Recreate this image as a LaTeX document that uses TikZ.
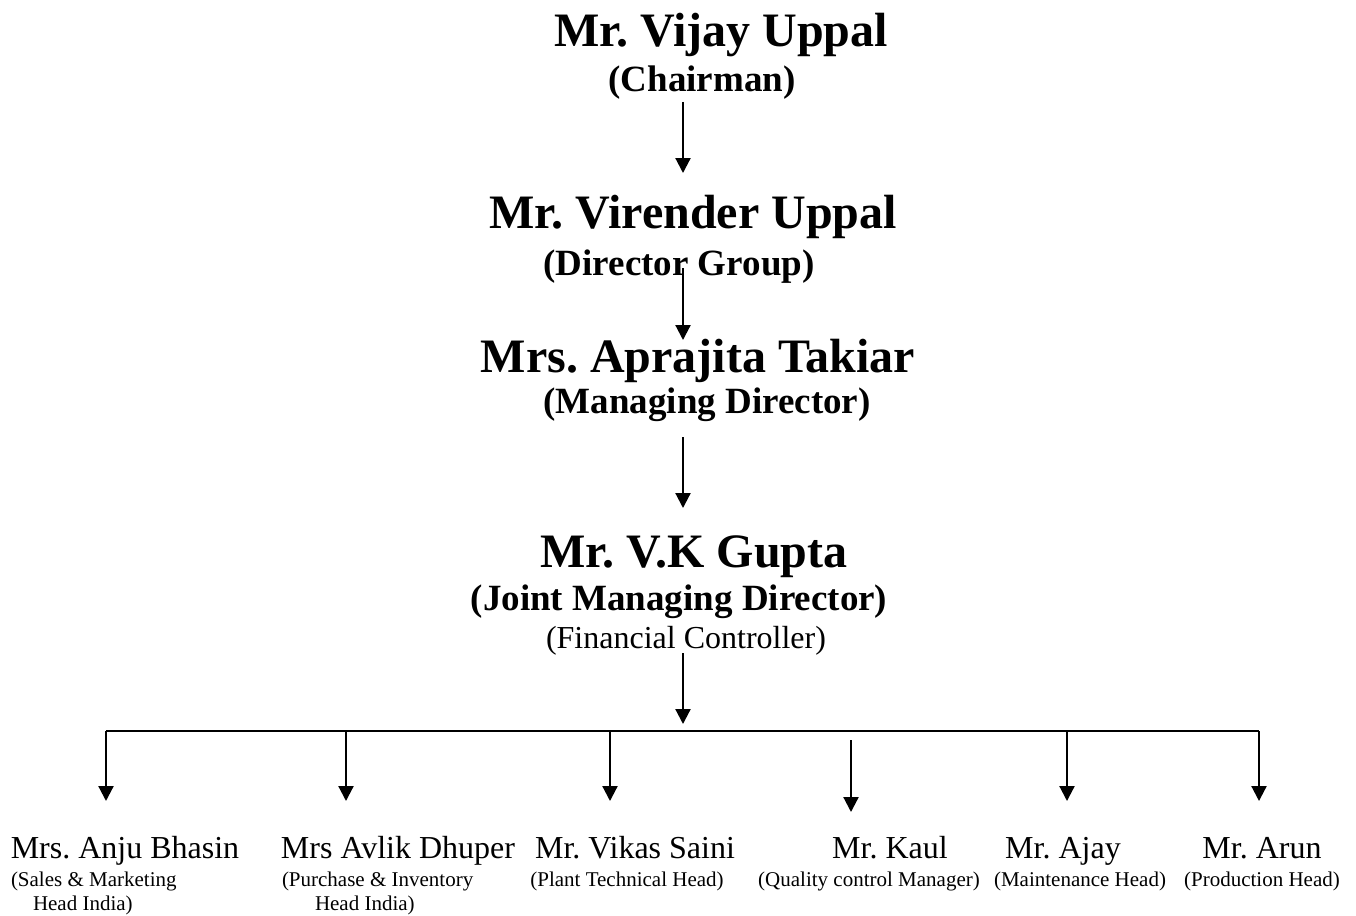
\documentclass[tikz,border=0pt]{standalone}
\usepackage{fontspec}
\setmainfont{Liberation Serif}
\frenchspacing
\usetikzlibrary{arrows.meta}
\newcommand\fbig{\fontsize{48}{50}\selectfont\bfseries\frenchspacing}
\newcommand\frole{\fontsize{37}{40}\selectfont\bfseries\frenchspacing}
\newcommand\freg{\fontsize{32}{34}\selectfont\frenchspacing}
\newcommand\fsub{\fontsize{21}{23}\selectfont\frenchspacing}
\begin{document}
\begin{tikzpicture}[x=1pt,y=-1pt,
  txt/.style={inner sep=0pt,outer sep=0pt,anchor=base},
  txtw/.style={inner sep=0pt,outer sep=0pt,anchor=base west},
  conn/.style={line width=2.2pt},
  arr/.style={line width=2.2pt,-{Triangle[length=15pt,width=15pt]}}]
\useasboundingbox[fill=white] (0,0) rectangle (1356,915);
% top chain
\node[txt,font=\fbig] (vijay) at (721,47) {Mr. Vijay Uppal};
\node[txt,font=\frole] (chair) at (702,92) {(Chairman)};
\node[txt,font=\fbig] (virender) at (693,228) {Mr. Virender Uppal};
\node[txt,font=\frole] (dirgroup) at (679,275) {(Director Group)};
\node[txt,font=\fbig] (aprajita) at (698,372) {Mrs. Aprajita Takiar};
\node[txt,font=\frole] (md) at (707,413) {(Managing Director)};
\node[txt,font=\fbig] (gupta) at (694,567) {Mr. V.K Gupta};
\node[txt,font=\frole] (jmd) at (679,610) {(Joint Managing Director)};
\node[txt,font=\freg] (fc) at (686,648) {(Financial Controller)};
% arrow end points
\coordinate (a1s) at (683,102);
\coordinate (a1e) at (683,173);
\coordinate (a2s) at (683,268);
\coordinate (a2e) at (683,340);
\coordinate (a3s) at (683,437);
\coordinate (a3e) at (683,508);
\coordinate (a4s) at (683,653);
\coordinate (a4e) at (683,724);
\draw[arr] (a1s) -- (a1e);
\draw[arr] (a2s) -- (a2e);
\draw[arr] (a3s) -- (a3e);
\draw[arr] (a4s) -- (a4e);
% bus
\coordinate (busL) at (106,731);
\coordinate (busR) at (1259,731);
\draw[conn] (busL) -- (busR);
\coordinate (d1s) at (106,731);  \coordinate (d1e) at (106,801);
\coordinate (d2s) at (346,731);  \coordinate (d2e) at (346,801);
\coordinate (d3s) at (610,731);  \coordinate (d3e) at (610,801);
\coordinate (d4s) at (851,740);  \coordinate (d4e) at (851,812);
\coordinate (d5s) at (1067,731); \coordinate (d5e) at (1067,801);
\coordinate (d6s) at (1259,731); \coordinate (d6e) at (1259,801);
\draw[arr] (d1s) -- (d1e);
\draw[arr] (d2s) -- (d2e);
\draw[arr] (d3s) -- (d3e);
\draw[arr] (d4s) -- (d4e);
\draw[arr] (d5s) -- (d5e);
\draw[arr] (d6s) -- (d6e);
% bottom names
\node[txt,font=\freg] (anju) at (125,858) {Mrs. Anju Bhasin};
\node[txtw,font=\fsub] (anjur1) at (11,886) {(Sales \& Marketing};
\node[txtw,font=\fsub] (anjur2) at (33,910) {Head India)};
\node[txt,font=\freg] (avlik) at (398,858) {Mrs Avlik Dhuper};
\node[txtw,font=\fsub] (avlikr1) at (282,886) {(Purchase \& Inventory};
\node[txtw,font=\fsub] (avlikr2) at (315,910) {Head India)};
\node[txt,font=\freg] (vikas) at (635,858) {Mr. Vikas Saini};
\node[txt,font=\fsub] (vikasr) at (627,886) {(Plant Technical Head)};
\node[txt,font=\freg] (kaul) at (890,858) {Mr. Kaul};
\node[txt,font=\fsub] (kaulr) at (869,886) {(Quality control Manager)};
\node[txt,font=\freg] (ajay) at (1063,858) {Mr. Ajay};
\node[txt,font=\fsub] (ajayr) at (1080,886) {(Maintenance Head)};
\node[txt,font=\freg] (arun) at (1262,858) {Mr. Arun};
\node[txt,font=\fsub] (arunr) at (1262,886) {(Production Head)};
\end{tikzpicture}
\end{document}
